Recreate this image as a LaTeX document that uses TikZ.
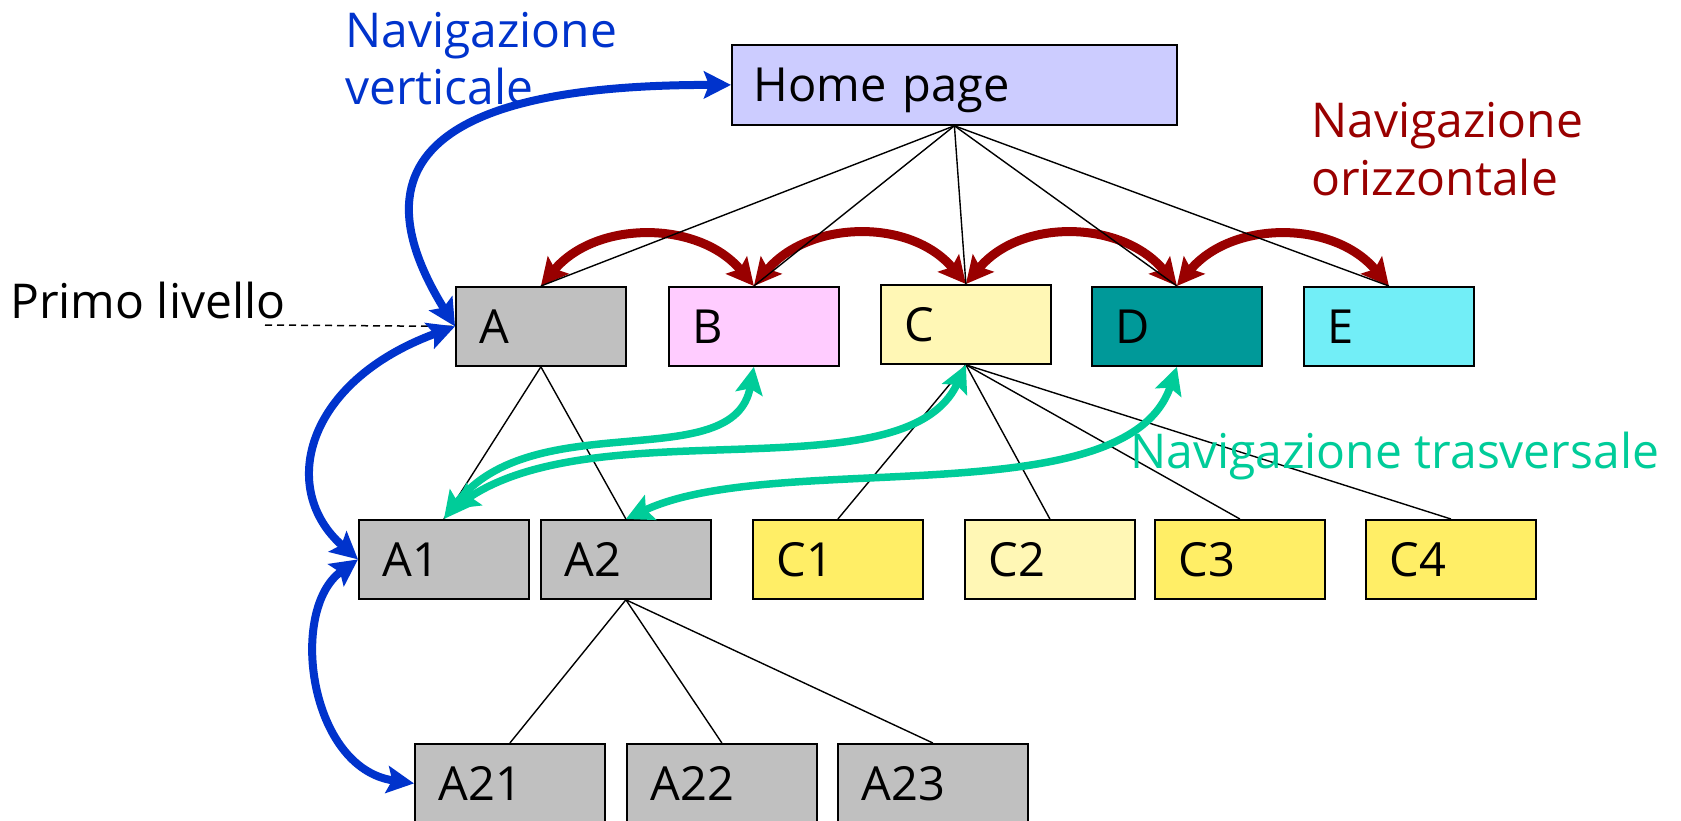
\documentclass[tikz,border=0pt]{standalone}
\usepackage{fontspec}
\setmainfont{Open Sans}
\usetikzlibrary{arrows.meta}
\definecolor{navblue}{HTML}{0033CC}
\definecolor{navred}{HTML}{990000}
\definecolor{navgreen}{HTML}{00CC99}
\definecolor{homefill}{HTML}{CCCCFF}
\definecolor{grayfill}{HTML}{C0C0C0}
\definecolor{pinkfill}{HTML}{FFCCFF}
\definecolor{paleyellow}{HTML}{FFF7B5}
\definecolor{yellowfill}{HTML}{FFEE66}
\definecolor{tealfill}{HTML}{009999}
\definecolor{cyanfill}{HTML}{72EEF7}
\begin{document}
\begin{tikzpicture}[x=1pt,y=-1pt,
  lbl/.style={font=\fontsize{48}{56}\selectfont, inner sep=0pt, anchor=base west},
  box/.style={draw, line width=1.8pt, anchor=north west, minimum height=79pt,
    inner ysep=0pt, inner xsep=24pt, text width=122pt, align=left,
    text height=34pt, text depth=0pt, font=\fontsize{47}{56}\selectfont},
  widebox/.style={box, text width=142pt},
  homebox/.style={box, inner xsep=22pt, text width=401pt, minimum height=80pt},
  tree/.style={line width=1.4pt},
  nav/.style={line width=8pt, >={Stealth[length=27pt,width=27pt,inset=5pt]}, <->},
  hnav/.style={nav, line width=9pt, navred},
]
\useasboundingbox (0,0) rectangle (1681,820);
\fill[white] (0,0) rectangle (1681,820);

% boxes
\node[homebox, fill=homefill] (home) at (731,44) {Home page};
\node[box, fill=grayfill] (A) at (455,286) {A};
\node[box, fill=pinkfill] (B) at (668,286) {B};
\node[box, fill=paleyellow] (C) at (880,284) {C};
\node[box, fill=tealfill] (D) at (1091,286) {D};
\node[box, fill=cyanfill] (E) at (1303,286) {E};
\node[box, fill=grayfill] (A1) at (358,519) {A1};
\node[box, fill=grayfill] (A2) at (540,519) {A2};
\node[box, fill=yellowfill] (C1) at (752,519) {C1};
\node[box, fill=paleyellow] (C2) at (964,519) {C2};
\node[box, fill=yellowfill] (C3) at (1154,519) {C3};
\node[box, fill=yellowfill] (C4) at (1365,519) {C4};
\node[widebox, fill=grayfill] (A21) at (414,743) {A21};
\node[widebox, fill=grayfill] (A22) at (626,743) {A22};
\node[widebox, fill=grayfill] (A23) at (837,743) {A23};

% horizontal navigation
\draw[hnav] (A.north) .. controls +(55,-66) and +(-55,-66) .. (B.north);
\draw[hnav] (B.north) .. controls +(55,-66) and +(-55,-66) .. (C.north);
\draw[hnav] (C.north) .. controls +(55,-66) and +(-55,-66) .. (D.north);
\draw[hnav] (D.north) .. controls +(55,-66) and +(-55,-66) .. (E.north);

% tree
\foreach \n in {A,B,C,D,E} \draw[tree] (home.south) -- (\n.north);
\foreach \n in {A1,A2} \draw[tree] (A.south) -- (\n.north);
\foreach \n in {C1,C2,C3,C4} \draw[tree] (C.south) -- (\n.north);
\foreach \n in {A21,A22,A23} \draw[tree] (A2.south) -- (\n.north);

% primo livello
\node[lbl] (primo) at (10,318) {Primo livello};
\coordinate (dashstart) at (265,325);
\draw[line width=1.5pt, dash pattern=on 7pt off 5pt] (dashstart) -- (A.west);

% transversal navigation
\draw[nav, navgreen, line width=7.5pt] (A1.north) .. controls +(90,-115) and +(-20,110) .. (B.south);
\draw[nav, navgreen, line width=7.5pt] ([shift={(8,-10)}]A1.north) .. controls +(150,-100) and +(-60,130) .. (C.south);
\draw[nav, navgreen, line width=7.5pt] (A2.north) .. controls +(150,-70) and +(-50,150) .. (D.south);

% vertical navigation
\draw[nav, navblue] (home.west) .. controls +(-200,0) and +(-130,-210) .. (A.west);
\draw[nav, navblue] (A.west) .. controls +(-150,55) and +(-80,-70) .. (A1.west);
\draw[nav, navblue] (A1.west) .. controls +(-70,50) and +(-105,-15) .. (A21.west);

% labels
\node[lbl, text=navblue] (vert1) at (345,47) {Navigazione};
\node[lbl, text=navblue] (vert2) at (345,104) {verticale};
\node[lbl, text=navred] (oriz1) at (1311,137) {Navigazione};
\node[lbl, text=navred] (oriz2) at (1311,195) {orizzontale};
\node[lbl, text=navgreen] (trasv) at (1130,468) {Navigazione trasversale};
\end{tikzpicture}
\end{document}
